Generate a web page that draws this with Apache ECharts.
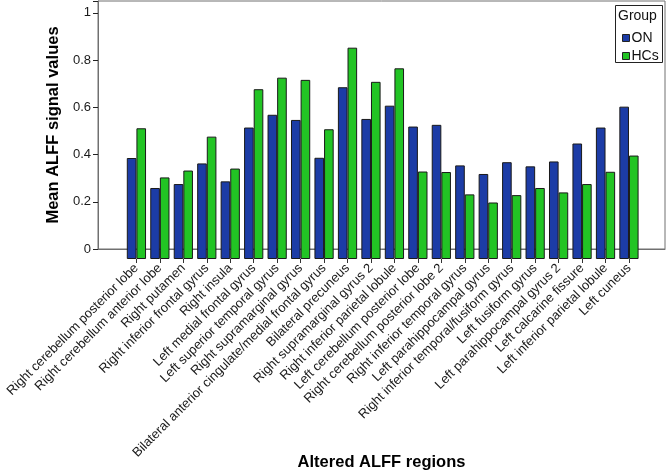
<!DOCTYPE html>
<html>
<head>
<meta charset="utf-8">
<script src="https://cdn.jsdelivr.net/npm/echarts@6/dist/echarts.min.js"></script>
<style>
  html, body { margin: 0; padding: 0; background: #fff; }
  #chart { width: 667px; height: 476px; }
</style>
</head>
<body>
<div id="chart"></div>
<script>
// regions on the x axis
const regions = [
  'Right cerebellum posterior lobe',
  'Right cerebellum anterior lobe',
  'Right putamen',
  'Right inferior frontal gyrus',
  'Right insula',
  'Left medial frontal gyrus',
  'Left superior temporal gyrus',
  'Right supramarginal gyrus',
  'Bilateral anterior cingulate/medial frontal gyrus',
  'Bilateral precuneus',
  'Right supramarginal gyrus 2',
  'Right inferior parietal lobule',
  'Left cerebellum posterior lobe',
  'Right cerebellum posterior lobe 2',
  'Right inferior temporal gyrus',
  'Left parahippocampal gyrus',
  'Right inferior temporal/fusiform gyrus',
  'Left fusiform gyrus',
  'Left parahippocampal gyrus 2',
  'Left calcarine fissure',
  'Left inferior parietal lobule',
  'Left cuneus'
]
const onValues = [0.411, 0.289, 0.305, 0.389, 0.316, 0.535, 0.587, 0.566, 0.412, 0.699, 0.570,
  0.624, 0.539, 0.546, 0.381, 0.346, 0.394, 0.377, 0.397, 0.470, 0.535, 0.620]
const hcValues = [0.532, 0.332, 0.360, 0.498, 0.368, 0.691, 0.738, 0.729, 0.528, 0.860, 0.721,
  0.776, 0.356, 0.354, 0.263, 0.230, 0.260, 0.289, 0.271, 0.305, 0.355, 0.421]
const yTicks = [0, 0.2, 0.4, 0.6, 0.8, 1]

const font = 'Liberation Sans, Arial, sans-serif'
const blue = '#1c3ca6'
const green = '#22c424'
const frame = '#707070'

const chart = echarts.init(document.getElementById('chart'), null, {renderer: 'canvas'})

const option = {
  animation: false,
  textStyle: {fontFamily: font},
  grid: [
    // outer frame with the y scale
    {left: 98, top: 1, width: 567, height: 258, show: true, borderColor: frame, borderWidth: 1},
    // bars sit inside with a margin on both sides
    {left: 124.7, top: 1, width: 516, height: 258}
  ],
  xAxis: [
    {
      type: 'value',
      gridIndex: 0,
      min: 0,
      max: 1,
      axisLine: {show: true, lineStyle: {color: frame}},
      axisTick: {show: false},
      axisLabel: {show: false},
      splitLine: {show: false},
      name: 'Altered ALFF regions',
      nameLocation: 'middle',
      nameGap: 205,
      nameTextStyle: {fontSize: 16.5, fontWeight: 'bold', color: '#000', fontFamily: font}
    },
    {
      type: 'category',
      gridIndex: 1,
      data: regions,
      axisLine: {show: false},
      axisTick: {show: true, alignWithLabel: true, length: 4, lineStyle: {color: '#333'}},
      axisLabel: {interval: 0, rotate: 45, fontSize: 13, color: '#1a1a1a', margin: 7, fontFamily: font}
    }
  ],
  yAxis: [
    {
      type: 'value',
      gridIndex: 0,
      min: 0,
      max: 1.05,
      interval: 0.2,
      axisLine: {show: true, lineStyle: {color: frame}},
      axisTick: {show: true, length: 5, lineStyle: {color: '#222', width: 1}},
      axisLabel: {fontSize: 13, color: '#1a1a1a', margin: 7, customValues: yTicks, fontFamily: font},
      splitLine: {show: false},
      name: 'Mean ALFF signal values',
      nameLocation: 'middle',
      nameGap: 32,
      nameTextStyle: {fontSize: 16.5, fontWeight: 'bold', color: '#000', fontFamily: font}
    },
    {
      type: 'value',
      gridIndex: 1,
      min: 0,
      max: 1.05,
      show: false
    }
  ],
  legend: {
    orient: 'vertical',
    left: 617,
    top: 25,
    itemWidth: 7,
    itemHeight: 7,
    itemGap: 2,
    z: 10,
    textStyle: {fontSize: 14, color: '#111', lineHeight: 16, padding: [0, 0, 0, -3], fontFamily: font},
    data: [
      {name: 'ON', icon: 'rect', itemStyle: {color: blue, borderColor: '#222', borderWidth: 1}},
      {name: 'HCs', icon: 'rect', itemStyle: {color: green, borderColor: '#222', borderWidth: 1}}
    ]
  },
  graphic: [
    {type: 'rect', shape: {x: 615.5, y: 5.5, width: 47, height: 57}, style: {fill: '#fff', stroke: '#222', lineWidth: 1}, z: 5},
    {type: 'text', x: 618, y: 16, z: 11, style: {text: 'Group', fontSize: 14, fill: '#111', verticalAlign: 'middle', fontFamily: font}}
  ],
  series: [
    {
      name: 'ON',
      type: 'bar',
      xAxisIndex: 1,
      yAxisIndex: 1,
      data: onValues,
      barGap: '0%',
      barCategoryGap: '18%',
      itemStyle: {color: blue, borderColor: '#1a1a1a', borderWidth: 1}
    },
    {
      name: 'HCs',
      type: 'bar',
      xAxisIndex: 1,
      yAxisIndex: 1,
      data: hcValues,
      barGap: '0%',
      barCategoryGap: '18%',
      itemStyle: {color: green, borderColor: '#1a1a1a', borderWidth: 1}
    }
  ]
}
chart.setOption(option)
</script>
</body>
</html>
